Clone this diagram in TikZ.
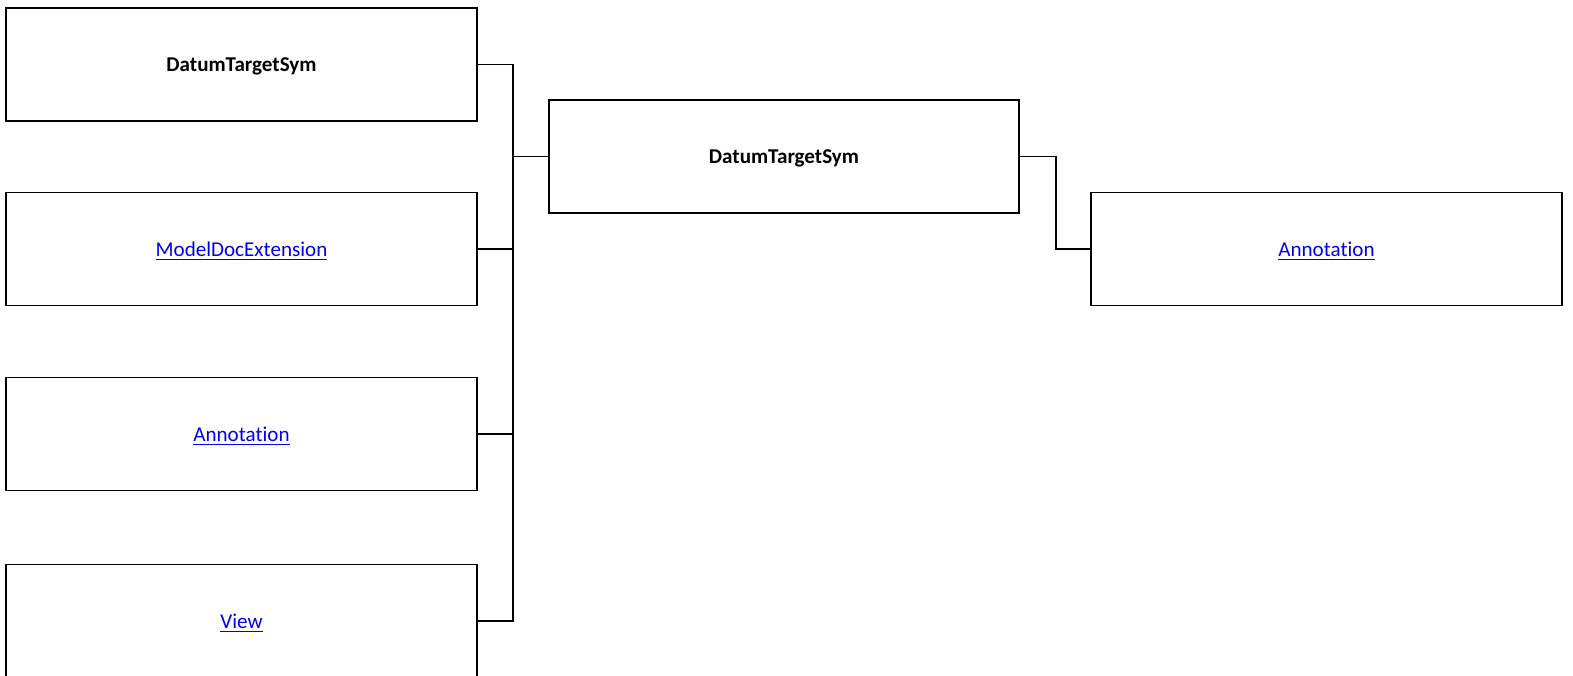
\documentclass[tikz,border=0pt]{standalone}
\usepackage{fontspec}
\setmainfont{Carlito}[Ligatures=NoCommon]
\usepackage{xcolor}
\definecolor{LinkBlue}{RGB}{0,0,238}
\usetikzlibrary{positioning}

\begin{document}
\begin{tikzpicture}[x=0.02cm, y=-0.02cm,
      box/.style={draw=black, line width=1.1pt, fill=white,
                  minimum width=9.42cm, minimum height=2.26cm, text depth=0pt,
                  align=center, font=\fontsize{12}{14}\selectfont, inner sep=0pt},
      link/.style={box, text=LinkBlue},
      wire/.style={draw=black, line width=1.1pt}
    ]
      \useasboundingbox (0,0) rectangle (1573,676);
      \clip (0,0) rectangle (1573,676);
      % left column
      \node[box]  (sym)   at (241.5, 64.5) {\textbf{DatumTargetSym}};
      \node[link] (mde)   at (241.5, 249)  {\underline{ModelDocExtension}};
      \node[link] (ann)   at (241.5, 434)  {\underline{Annotation}};
      \node[link] (view)  at (241.5, 621)  {\underline{View}};
      % centre and right
      \node[box]  (main)  at (784, 156.5)  {\textbf{DatumTargetSym}};
      \node[link] (annR)  at (1326.5, 249) {\underline{Annotation}};

      \coordinate (bus) at (513, 156.5);
      \foreach \n in {sym, mde, ann, view}
        \draw[wire] (\n.east) -- (bus |- \n.east) -- (bus);
      \draw[wire] (bus) -- (main.west);
      \draw[wire] (main.east) -- ++(36,0) |- (annR.west);
\end{tikzpicture}
\end{document}
